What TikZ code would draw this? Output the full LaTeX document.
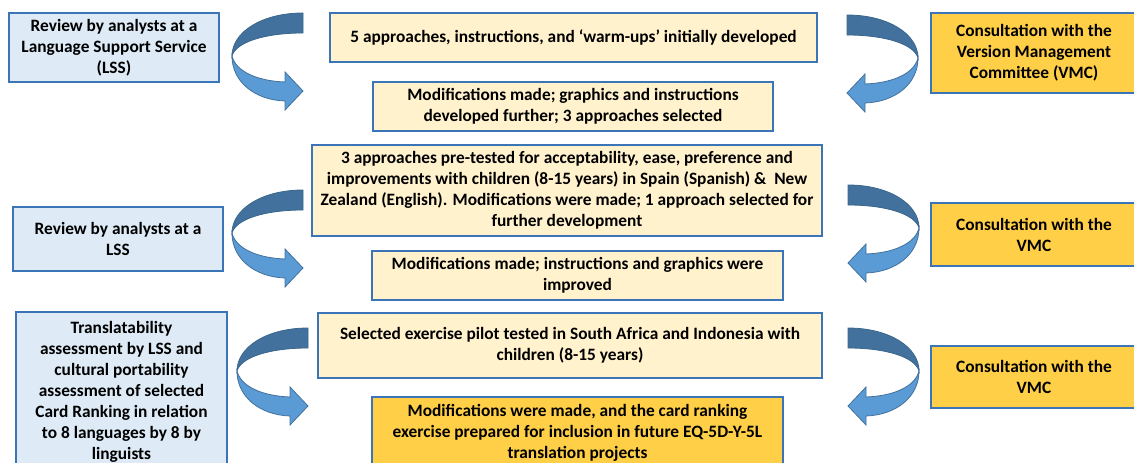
\documentclass[tikz,border=0pt]{standalone}
\usepackage{fontspec}
\setmainfont{Carlito}
\definecolor{boxline}{HTML}{3B75B8}
\definecolor{lssfill}{HTML}{DEEBF7}
\definecolor{stagefill}{HTML}{FFF2CC}
\definecolor{vmcfill}{HTML}{FFCF47}
\definecolor{turndark}{HTML}{41719C}
\definecolor{turnlight}{HTML}{5B9BD5}
\tikzset{
	turn/.pic={
		\filldraw[turndark,draw=turndark!90!black,line width=0.6pt]
			(0,0) .. controls (-41,0) and (-71,19) .. (-71,43)
			.. controls (-67,29) and (-38,20) .. (0,20) -- cycle;
		\filldraw[turnlight,draw=turndark,line width=0.6pt]
			(-71,43) .. controls (-71,69) and (-48,87) .. (-18,88)
			-- (-18,97) -- (0,78) -- (-18,59) -- (-18,69)
			.. controls (-45,68) and (-67,59) .. (-71,43) -- cycle;
	}
}
\begin{document}
\begin{tikzpicture}[x=0.75pt,y=-0.75pt,
		font=\fontsize{13}{15.8}\selectfont\bfseries,
		box/.style={draw=boxline,line width=1.5pt,align=center,inner sep=0pt},
		boxsize/.style 2 args={minimum width=#1*0.75pt,minimum height=#2*0.75pt},
		lss/.style={box,fill=lssfill},
		stage/.style={box,fill=stagefill},
		vmc/.style={box,fill=vmcfill}]
		\useasboundingbox (0,0) rectangle (1134,463);
		% first round
		\node[lss,boxsize={210}{69}] (lss1) at (114,47.5) {Review by analysts at a\\Language Support Service\\(LSS)};
		\node[stage,boxsize={487}{49}] (dev) at (573.5,37.5) {5 approaches, instructions, and ‘warm-ups’ initially developed};
		\node[stage,boxsize={400}{49}] (mod1) at (573,106.5) {Modifications made; graphics and instructions\\developed further; 3 approaches selected};
		\node[vmc,boxsize={206}{80}] (vmc1) at (1034,53) {Consultation with the\\Version Management\\Committee (VMC)};
		\pic at (303,13) {turn};
		\pic[xscale=-1] at (847,15) {turn};
		% second round
		\node[stage,boxsize={510}{91}] (pretest) at (567,190.5) {3 approaches pre-tested for acceptability, ease, preference and\\improvements with children (8-15 years) in Spain (Spanish) \&\ \ New\\Zealand (English). Modifications were made; 1 approach selected for\\further development};
		\node[stage,boxsize={411}{49}] (mod2) at (577.5,275.5) {Modifications made; instructions and graphics were\\improved};
		\node[lss,boxsize={210}{64}] (lss2) at (118,239) {Review by analysts at a\\LSS};
		\node[vmc,boxsize={206}{63}] (vmc2) at (1034,234.5) {Consultation with the\\VMC};
		\pic at (303,190) {turn};
		\pic[xscale=-1] at (848,185) {turn};
		% third round
		\node[stage,boxsize={504}{65}] (pilot) at (570,345.5) {Selected exercise pilot tested in South Africa and Indonesia with\\children (8-15 years)};
		\node[vmc,boxsize={411}{72}] (final) at (577.5,433) {Modifications were made, and the card ranking\\exercise prepared for inclusion in future EQ-5D-Y-5L\\translation projects};
		\node[lss,boxsize={211}{160}] (lss3) at (121.5,392) {Translatability\\assessment by LSS and\\cultural portability\\assessment of selected\\Card Ranking in relation\\to 8 languages by 8 by\\linguists};
		\node[vmc,boxsize={206}{62}] (vmc3) at (1034,377) {Consultation with the\\VMC};
		\pic at (308,328) {turn};
		\pic[xscale=-1] at (848,328) {turn};
\end{tikzpicture}
\end{document}
